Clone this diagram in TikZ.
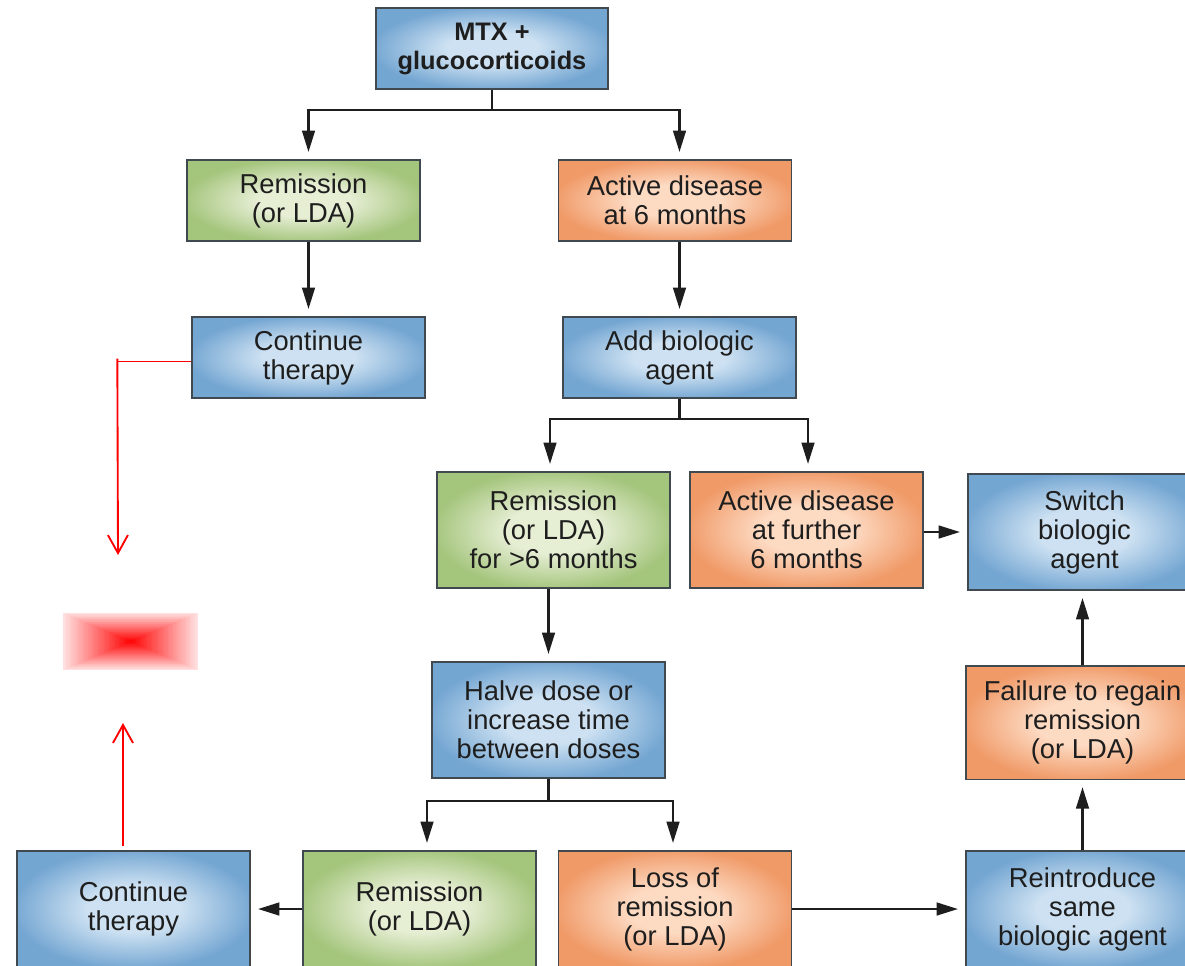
\documentclass[tikz,border=0pt]{standalone}
\usepackage{fontspec}
\setmainfont{Liberation Sans}
\usetikzlibrary{arrows.meta,calc}

% box palettes: rim colour and glowing centre
\definecolor{blueout}{RGB}{116,166,210}
\definecolor{bluein}{RGB}{205,225,242}
\definecolor{greenout}{RGB}{164,197,124}
\definecolor{greenin}{RGB}{230,238,212}
\definecolor{orangeout}{RGB}{240,154,104}
\definecolor{orangein}{RGB}{253,218,194}
\definecolor{rim}{RGB}{64,72,80}
\definecolor{ink}{RGB}{30,30,30}
\definecolor{linkcol}{RGB}{30,30,30}

\pgfdeclareradialshading{glowblue}{\pgfpoint{0bp}{0bp}}{color(0bp)=(bluein); color(10bp)=(bluein); color(26bp)=(blueout); color(50bp)=(blueout)}
\pgfdeclareradialshading{glowgreen}{\pgfpoint{0bp}{0bp}}{color(0bp)=(greenin); color(10bp)=(greenin); color(26bp)=(greenout); color(50bp)=(greenout)}
\pgfdeclareradialshading{gloworange}{\pgfpoint{0bp}{0bp}}{color(0bp)=(orangein); color(10bp)=(orangein); color(26bp)=(orangeout); color(50bp)=(orangeout)}

\tikzset{
  box/.style={draw=rim, line width=1pt, rectangle, inner sep=0pt,
    minimum width=174.75pt, minimum height=60.75pt, align=center,
    text=ink, font=\fontsize{20.5}{21.75}\selectfont},
  tall/.style={minimum height=87pt},
  bluebox/.style={box, shading=glowblue},
  greenbox/.style={box, shading=glowgreen},
  orangebox/.style={box, shading=gloworange},
  link/.style={draw=linkcol, line width=1.75pt},
  arr/.style={link, -{Triangle[length=16pt,width=9.5pt]}, shorten >=5.5pt},
  redlink/.style={draw=red, line width=1.4pt, -{Straight Barb[length=13.5pt,width=15pt,line width=1.4pt]}}
}

\begin{document}
\begin{tikzpicture}[x=0.75pt,y=-0.75pt]
\useasboundingbox (0,0) rectangle (1185,965);
\clip (0,0) rectangle (1185,965);
\fill[white] (0,0) rectangle (1185,965);

% treatment boxes
\node[bluebox, font=\bfseries\fontsize{19}{21.75}\selectfont, minimum width=174pt] (mtx) at (492,48.5) {MTX +\\glucocorticoids};
\node[greenbox] (rem1) at (303.5,200.5) {Remission\\(or LDA)};
\node[orangebox] (act1) at (675,200.5) {Active disease\\at 6 months};
\node[bluebox] (cont1) at (308.5,357.5) {Continue\\therapy};
\node[bluebox] (addbio) at (679.5,357.5) {Add biologic\\agent};
\node[greenbox, tall] (rem2) at (553.5,530) {Remission\\(or LDA)\\for >6 months};
\node[orangebox, tall] (act2) at (806.5,530) {Active disease\\at further\\6 months};
\node[bluebox, tall] (switch) at (1084.5,532) {Switch\\biologic\\agent};
\node[bluebox, tall] (halve) at (548.5,720) {Halve dose or\\increase time\\between doses};
\node[orangebox, minimum height=85pt] (fail) at (1082.5,722.5) {Failure to regain\\remission\\(or LDA)};
\node[bluebox, tall] (cont2) at (133.5,909) {Continue\\therapy};
\node[greenbox, tall] (rem3) at (419.5,909) {Remission\\(or LDA)};
\node[orangebox, tall] (loss) at (675,909) {Loss of\\remission\\(or LDA)};
\node[bluebox, tall] (reint) at (1082.5,909) {Reintroduce\\same\\biologic agent};

% first split
\coordinate (j1) at ($(mtx.south)+(0,20)$);
\draw[link] (mtx.south) -- (j1);
\draw[arr] (j1) -| (cont1.north |- rem1.north);
\draw[arr] (j1) -| (addbio.north |- act1.north);
\draw[arr] (rem1.south -| cont1.north) -- (cont1.north);
\draw[arr] (act1.south -| addbio.north) -- (addbio.north);

% second split
\coordinate (j2) at ($(addbio.south)+(0,20)$);
\draw[link] (addbio.south) -- (j2);
\draw[arr] (j2) -| ($(rem2.north)+(-3.5,0)$);
\draw[arr] (j2) -| ($(act2.north)+(1.5,0)$);
\draw[arr] (act2.east |- switch.west) -- (switch.west);
\draw[arr] (rem2.south -| halve.north) -- (halve.north);

% third split
\coordinate (j3) at ($(halve.south)+(0,22)$);
\draw[link] (halve.south) -- (j3);
\draw[arr] (j3) -| ($(rem3.north)+(7.5,0)$);
\draw[arr] (j3) -| ($(loss.north)+(-2,0)$);
\draw[arr] (rem3.west) -- (cont2.east);
\draw[arr] (loss.east) -- (reint.west);
\draw[arr] (reint.north) -- (reint.north |- fail.south);
\draw[arr] (fail.north) -- (fail.north |- switch.south);

% red glow patch with its two pointers
\coordinate (glow) at (130.5,641.5);
\foreach \k in {0,...,39}{
  \pgfmathsetmacro{\t}{\k/40}
  \pgfmathsetmacro{\hw}{67.5*(1-\t)}
  \pgfmathsetmacro{\hh}{28.5*(1-\t)}
  \pgfmathsetmacro{\pc}{12+88*\t}
  \fill[red!\pc!white] ($(glow)+(-\hw,-\hh)$) rectangle ($(glow)+(\hw,\hh)$);
}
\coordinate (rtop) at (118,555);
\coordinate (rbot) at (123,723);
\draw[red, line width=0.75pt] ($(cont1.west)+(0,3.5)$) -- ($(cont1.west)+(-74,3.5)$);
\draw[redlink] ($(cont1.west)+(-74,1)$) -- (rtop);
\draw[redlink] ($(cont2.north)+(-10.5,-4)$) -- (rbot);
\end{tikzpicture}
\end{document}
